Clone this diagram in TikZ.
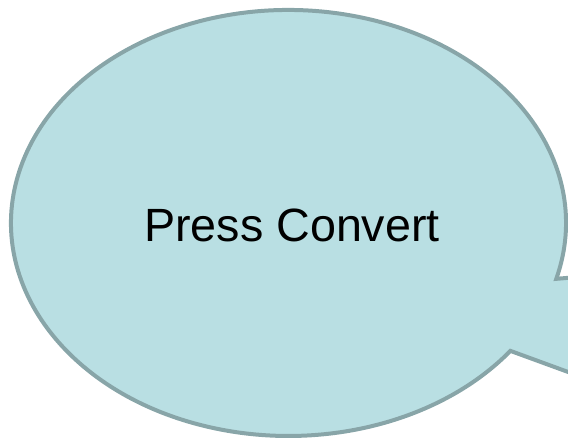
\documentclass[tikz,border=0pt]{standalone}
\usepackage{fontspec}
\setmainfont{Liberation Sans}
\definecolor{bubblefill}{RGB}{185,223,227}
\definecolor{bubbleline}{RGB}{136,165,168}

\begin{document}
\begin{tikzpicture}[x=0.75pt,y=0.75pt]
  \clip (0,0) rectangle (568,441);
  \coordinate (c) at (288.5,218);
  % ellipse with the wedge running off to the right
  \draw[bubbleline,fill=bubblefill,line width=3pt,line join=miter]
    (c) ++(-15.2:277.5 and 213)
    arc[start angle=-15.2,end angle=323.1,x radius=277.5,y radius=213]
    -- (590,61) -- (590,165) -- cycle;
  \node[font=\fontsize{35}{42}\selectfont,inner sep=0pt] (label) at (292,216) {Press Convert};
\end{tikzpicture}
\end{document}
